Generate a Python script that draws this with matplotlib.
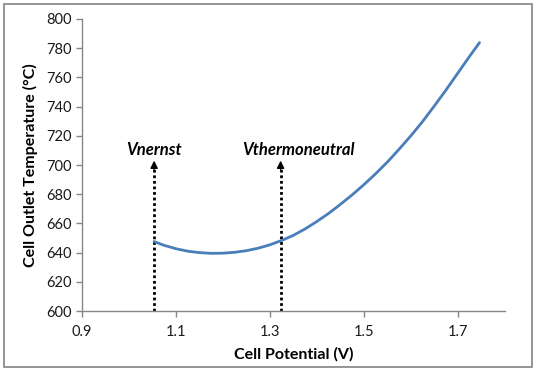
import matplotlib
matplotlib.use("Agg")
import matplotlib.pyplot as plt
from matplotlib.patches import Rectangle

# Data
potential = [1.054, 1.075, 1.10, 1.125, 1.15, 1.175, 1.20, 1.225, 1.25, 1.275,
             1.30, 1.325, 1.35, 1.375, 1.40, 1.425, 1.45, 1.475, 1.50, 1.525,
             1.55, 1.575, 1.60, 1.625, 1.65, 1.675, 1.70, 1.725, 1.746]
temperature = [647.6, 645.0, 642.7, 641.0, 640.0, 639.5, 639.6, 640.2, 641.3, 643.0,
               645.3, 648.3, 651.8, 656.2, 661.3, 666.8, 673.0, 679.5, 686.5, 694.0,
               702.0, 710.8, 720.0, 729.8, 740.5, 751.5, 763.0, 774.5, 783.8]
marker_names = ["Vnernst", "Vthermoneutral"]
marker_v = [1.054, 1.323]
arrow_top = 703
x_ticks = [0.9, 1.1, 1.3, 1.5, 1.7]
y_ticks = [600, 620, 640, 660, 680, 700, 720, 740, 760, 780, 800]

plt.rcParams['font.family'] = ['Lato', 'DejaVu Sans']

fig = plt.figure(figsize=(5.36, 3.71), dpi=100)
fig.patch.set_facecolor('white')
fig.add_artist(Rectangle((4/536, 4/371), 528/536, 363/371, transform=fig.transFigure,
                         fill=False, edgecolor='#8c8c8c', linewidth=1.3))

ax = fig.add_axes([0.1524, 0.1617, 0.942 - 0.1524, 0.9488 - 0.1617])
ax.plot(potential, temperature, color='#4A7EBB', lw=2.0, solid_capstyle='round',
        solid_joinstyle='round', zorder=3)

text_x = [1.054, 1.36]
for name, v, tx in zip(marker_names, marker_v, text_x):
    ax.plot([v, v], [600, arrow_top - 5], color='black', lw=2, linestyle=(0, (1, 1)), zorder=2)
    ax.annotate('', xy=(v, arrow_top), xytext=(v, arrow_top - 6),
                arrowprops=dict(arrowstyle='-|>', color='black', lw=1, mutation_scale=11,
                                shrinkA=0, shrinkB=0))
    ax.text(tx, 710.5, name, ha='center', va='center', fontsize=12,
            fontweight='bold', fontstyle='italic', color='black')

ax.set_xlim(0.9, 1.8)
ax.set_ylim(600, 800)
ax.set_xticks(x_ticks)
ax.set_xticklabels([f"{t:.1f}" for t in x_ticks])
ax.set_yticks(y_ticks)
for s in ['top', 'right']:
    ax.spines[s].set_visible(False)
for s in ['left', 'bottom']:
    ax.spines[s].set_color('#868686')
    ax.spines[s].set_linewidth(1.0)
ax.tick_params(axis='both', colors='#868686', length=4, width=1, labelsize=10.5,
               labelcolor='#1a1a1a', direction='out')
ax.tick_params(axis='x', pad=6)
ax.tick_params(axis='y', pad=3)

ax.set_xlabel('Cell Potential (V)', fontsize=11.5, fontweight='bold', labelpad=6)
ax.set_ylabel('Cell Outlet Temperature (°C)', fontsize=11.5, fontweight='bold', labelpad=6)

fig.savefig('out.png', dpi=100, facecolor='white')
